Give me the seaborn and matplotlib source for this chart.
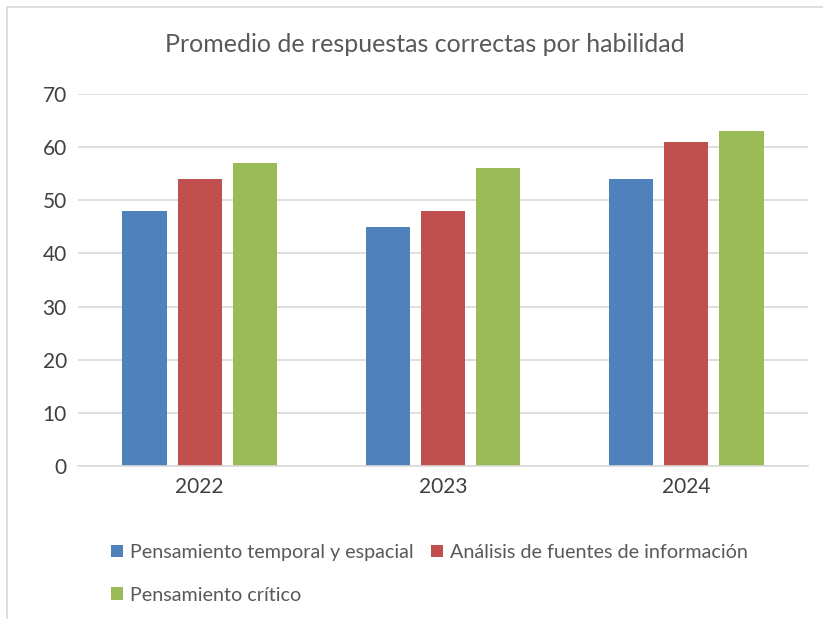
import pandas as pd
import matplotlib
matplotlib.use("Agg")
import matplotlib.pyplot as plt
import seaborn as sns
from matplotlib.patches import Rectangle

# datos
years = ["2022", "2023", "2024"]
series = ["Pensamiento temporal y espacial",
          "Análisis de fuentes de información",
          "Pensamiento crítico"]
temporal = [48, 45, 54]
fuentes = [54, 48, 61]
critico = [57, 56, 63]
colors = ["#4F81BD", "#C0504D", "#9BBB59"]

df = pd.DataFrame({
    "Año": years * 3,
    "Habilidad": [series[0]] * 3 + [series[1]] * 3 + [series[2]] * 3,
    "Valor": temporal + fuentes + critico,
})

sns.set_style("white")
plt.rcParams["font.family"] = ["Lato", "DejaVu Sans"]
txt = "#595959"

fig = plt.figure(figsize=(8.23, 6.19), dpi=100)
ax = fig.add_axes([78 / 823, 1 - 466 / 619, 730 / 823, 372 / 619])

sns.barplot(data=df, x="Año", y="Valor", hue="Habilidad", palette=colors,
            saturation=1, width=0.68, gap=0.2, linewidth=0, ax=ax, legend=True)

ax.set_ylim(0, 70)
ax.set_xlim(-0.5, 2.5)
ax.set_yticks(range(0, 71, 10))
ax.yaxis.grid(True, color="#D9D9D9", linewidth=1.2)
ax.set_axisbelow(True)
for s in ["top", "right", "left"]:
    ax.spines[s].set_visible(False)
ax.spines["bottom"].set_color("#D9D9D9")
ax.spines["bottom"].set_linewidth(1.2)
ax.tick_params(axis="both", length=0, labelsize=15, colors="#404040", pad=8)
ax.set_xlabel("")
ax.set_ylabel("")

handles, labels = ax.get_legend_handles_labels()
ax.get_legend().remove()
order = [0, 2, 1]
fig.legend([handles[i] for i in order], [labels[i] for i in order],
           ncol=2, loc="upper left", bbox_to_anchor=(103 / 823, 1 - 536 / 619),
           frameon=False, fontsize=14.2, labelcolor=txt, handlelength=0.6,
           handleheight=0.6, handletextpad=0.35, columnspacing=0.9,
           labelspacing=1.3, borderaxespad=0)

fig.text(425 / 823, 1 - 45 / 619, "Promedio de respuestas correctas por habilidad",
         ha="center", va="center", fontsize=18, color=txt)

fig.patches.append(Rectangle((7 / 823, -0.1), 1.1, 1 - 7 / 619 + 0.1,
                             transform=fig.transFigure, fill=False,
                             edgecolor="#D9D9D9", linewidth=1.2))

fig.savefig("out.png", dpi=100)
